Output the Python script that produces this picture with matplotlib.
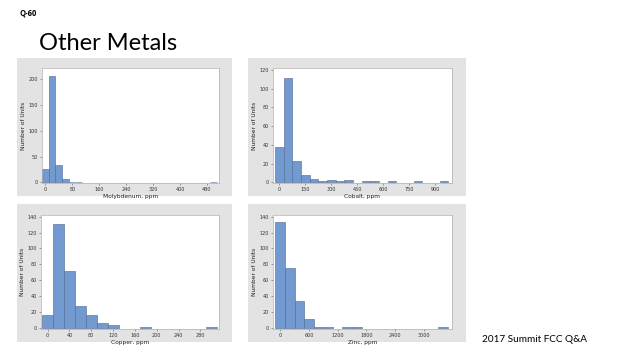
import matplotlib
matplotlib.use("Agg")
import matplotlib.pyplot as plt
from matplotlib.patches import Rectangle

W, H = 624, 351

# ---- data ----
moly_centers = [0, 20, 40, 60, 80, 100, 500]
moly_counts = [25, 207, 33, 7, 1, 1, 1]
moly_ticks = [0, 80, 160, 240, 320, 400, 480]
moly_yticks = [0, 50, 100, 150, 200]

cobalt_centers = [0, 50, 100, 150, 200, 250, 300, 350, 400, 500, 550, 650, 800, 950]
cobalt_counts = [38, 111, 23, 8, 3, 1, 2, 1, 2, 1, 1, 1, 1, 1]
cobalt_ticks = [0, 150, 300, 450, 600, 750, 900]
cobalt_yticks = [0, 20, 40, 60, 80, 100, 120]

copper_centers = [0, 20, 40, 60, 80, 100, 120, 180, 300]
copper_counts = [16, 131, 72, 28, 17, 7, 4, 1, 1]
copper_ticks = [0, 40, 80, 120, 160, 200, 240, 280]
copper_yticks = [0, 20, 40, 60, 80, 100, 120, 140]

zinc_centers = [0, 200, 400, 600, 800, 1000, 1400, 1600, 3400]
zinc_counts = [133, 76, 34, 12, 2, 2, 1, 2, 1]
zinc_ticks = [0, 600, 1200, 1800, 2400, 3000]
zinc_yticks = [0, 20, 40, 60, 80, 100, 120, 140]

fig = plt.figure(figsize=(W / 100, H / 100), dpi=100)
fig.patch.set_facecolor("white")

def box(x0, y0, x1, y1):
    return [x0 / W, 1 - y1 / H, (x1 - x0) / W, (y1 - y0) / H]

# background axes for the grey panels
bg = fig.add_axes([0, 0, 1, 1], zorder=-5)
bg.set_xlim(0, W)
bg.set_ylim(H, 0)
bg.axis("off")
grey = "#e3e3e3"
for (x0, y0, x1, y1) in [(17, 58, 232, 196), (248, 58, 466, 196),
                         (17, 204, 232, 342), (248, 204, 466, 342)]:
    bg.add_patch(Rectangle((x0, y0), x1 - x0, y1 - y0, facecolor=grey, edgecolor="none"))

fill = "#7399d1"
edge = "#4d6890"

panels = [
    (box(42, 68, 219, 183), moly_centers, moly_counts, 20, moly_ticks, moly_yticks,
     (-10, 516), (-1.5, 222), "Molybdenum, ppm"),
    (box(273, 68, 452, 183), cobalt_centers, cobalt_counts, 50, cobalt_ticks, cobalt_yticks,
     (-36, 996), (-0.8, 122), "Cobalt, ppm"),
    (box(41, 215, 219, 329), copper_centers, copper_counts, 20, copper_ticks, copper_yticks,
     (-12, 314), (-1, 142), "Copper, ppm"),
    (box(273, 215, 452, 329), zinc_centers, zinc_counts, 200, zinc_ticks, zinc_yticks,
     (-150, 3590), (-1, 142), "Zinc, ppm"),
]

for rect, centers, counts, bw, xt, yt, xl, yl, xlabel in panels:
    ax = fig.add_axes(rect)
    ax.set_facecolor("white")
    ax.bar(centers, counts, width=bw, color=fill, edgecolor=edge, linewidth=0.4, zorder=2)
    ax.set_xlim(*xl)
    ax.set_ylim(*yl)
    ax.set_xticks(xt)
    ax.set_yticks(yt)
    ax.tick_params(axis="both", labelsize=3.5, length=1.5, width=0.4, pad=1.5,
                   colors="#555555", labelcolor="#333333")
    for s in ax.spines.values():
        s.set_color("#b0b0b0")
        s.set_linewidth(0.5)
    ax.set_xlabel(xlabel, fontsize=4.2, labelpad=1, color="#222222")
    ax.set_ylabel("Number of Units", fontsize=4.2, labelpad=2, color="#222222")

fig.text(20 / W, 1 - 13 / H, "Q-60", fontsize=5.5, fontweight="bold",
         family="Open Sans", va="center", ha="left")
fig.text(39 / W, 1 - 44 / H, "Other Metals", fontsize=17, family="Lato",
         va="center", ha="left")
fig.text(482 / W, 1 - 339 / H, "2017 Summit FCC Q&A", fontsize=7.2, family="Lato",
         va="center", ha="left")

fig.savefig("out.png", dpi=100, facecolor="white")
